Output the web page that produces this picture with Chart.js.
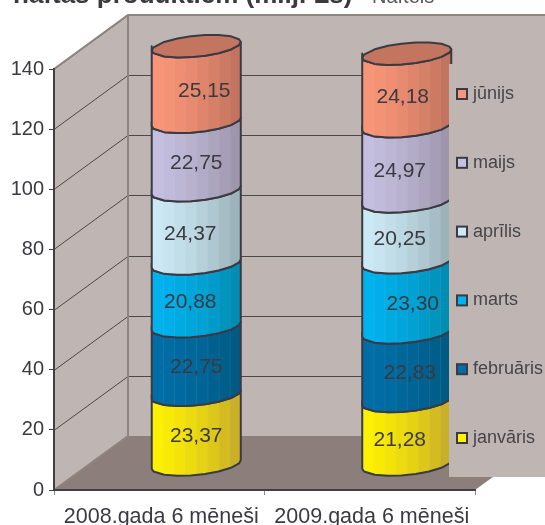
<!DOCTYPE html>
<html><head><meta charset="utf-8">
<script src="https://cdn.jsdelivr.net/npm/chart.js@4"></script>
<style>html,body{margin:0;padding:0;background:#fff;overflow:hidden}canvas{display:block}</style>
</head><body><canvas id="c" width="545" height="525"></canvas>
<script>
const categories = ['2008.gada 6 mēneši', '2009.gada 6 mēneši'];
const seriesNames = ['janvāris', 'februāris', 'marts', 'aprīlis', 'maijs', 'jūnijs'];
const janvaris = [23.37, 21.28];
const februaris = [22.75, 22.83];
const marts = [20.88, 23.30];
const aprilis = [24.37, 20.25];
const maijs = [22.75, 24.97];
const junijs = [25.15, 24.18];
const valueLabels = [['23,37','21,28'],['22,75','22,83'],['20,88','23,30'],['24,37','20,25'],['22,75','24,97'],['25,15','24,18']];
const labelShift = [[0,-7],[0,3],[-6,6],[-6,-7],[0,-7],[8,-4]];
const faceLight = ['#FFF200','#006EA8','#00B4F0','#CDEBF7','#C6C0E2','#FB9678'];
const faceDark  = ['#C4A92C','#00587F','#0089AE','#98ADB4','#9A92A6','#BD705C'];
const capColor = '#C47560';
const yTicks = { min: 0, max: 140, step: 20 };
const DEPTH_X = 74, DEPTH_Y = 54, OUTLINE = '#3a3a44', WALL = '#BFB6B3', FLOOR = '#8C7F7B', EDGE = '#8F8480';

function mix(a, b, t) {
  const p = s => [1,3,5].map(i => parseInt(s.substr(i,2),16));
  const A = p(a), B = p(b);
  return 'rgb(' + A.map((v,i) => Math.round(v + (B[i]-v)*t)).join(',') + ')';
}
const FACETS = [-1,-0.96,-0.72,-0.42,-0.12,0.2,0.5,0.78,0.96,1];
function curveY(yc, t) { return yc - 4.2*t + 10.5*Math.sqrt(Math.max(0,1-t*t)); }
function backY(yc, t) { return yc - 4.2*t - 10.5*Math.sqrt(Math.max(0,1-t*t)); }

const scene = {
  id: 'scene',
  beforeDraw(chart) {
    const {ctx, chartArea: a, scales: {y}} = chart;
    ctx.save();
    ctx.fillStyle = WALL;
    ctx.fillRect(a.left + DEPTH_X, a.top - DEPTH_Y, a.right - a.left, a.bottom - a.top);
    ctx.beginPath();
    ctx.moveTo(a.left, a.top); ctx.lineTo(a.left + DEPTH_X, a.top - DEPTH_Y);
    ctx.lineTo(a.left + DEPTH_X, a.bottom - DEPTH_Y); ctx.lineTo(a.left, a.bottom); ctx.closePath();
    ctx.fill();
    ctx.fillStyle = FLOOR;
    ctx.beginPath();
    ctx.moveTo(a.left, a.bottom); ctx.lineTo(a.left + DEPTH_X, a.bottom - DEPTH_Y);
    ctx.lineTo(a.right + DEPTH_X, a.bottom - DEPTH_Y); ctx.lineTo(a.right, a.bottom); ctx.closePath();
    ctx.fill();
    ctx.strokeStyle = '#4c4848'; ctx.lineWidth = 1;
    y.ticks.forEach(t => {
      if (t.value === 0) return;
      const py = Math.round(y.getPixelForValue(t.value)) + 0.5;
      ctx.beginPath();
      ctx.moveTo(a.left, py); ctx.lineTo(a.left + DEPTH_X, py - DEPTH_Y);
      ctx.lineTo(a.right + DEPTH_X, py - DEPTH_Y);
      ctx.stroke();
    });
    ctx.strokeStyle = EDGE; ctx.lineWidth = 2;
    ctx.beginPath();
    ctx.moveTo(a.left, a.top); ctx.lineTo(a.left + DEPTH_X, a.top - DEPTH_Y);
    ctx.lineTo(a.right + DEPTH_X, a.top - DEPTH_Y);
    ctx.moveTo(a.left + DEPTH_X, a.top - DEPTH_Y); ctx.lineTo(a.left + DEPTH_X, a.bottom - DEPTH_Y);
    ctx.moveTo(a.left, a.bottom); ctx.lineTo(a.left + DEPTH_X, a.bottom - DEPTH_Y);
    ctx.stroke();
    ctx.restore();
  },
  beforeDatasetsDraw(chart) {
    const {ctx} = chart;
    const n = chart.data.datasets.length;
    for (let d = 0; d < n; d++) {
      chart.getDatasetMeta(d).data.forEach((bar, c) => {
        const cx = bar.x + DEPTH_X/2, hw = bar.width/2;
        const top = bar.y - DEPTH_Y/2 + 2, bot = bar.base - DEPTH_Y/2 + 2;
        const X = t => cx + t*hw;
        ctx.save();
        ctx.beginPath();
        ctx.moveTo(X(-1), top);
        FACETS.forEach(t => ctx.lineTo(X(t), curveY(top, t)));
        FACETS.slice().reverse().forEach(t => ctx.lineTo(X(t), curveY(bot, t)));
        ctx.closePath();
        ctx.save();
        ctx.clip();
        const strips = 8;
        for (let s = 0; s < strips; s++) {
          const k = (s + 0.5)/strips;
          ctx.fillStyle = mix(faceLight[d], faceDark[d], k*k*0.5 + k*0.5);
          const x0 = X(-1 + 2*s/strips);
          ctx.fillRect(x0, top - 20, 2*hw/strips + 0.6, bot - top + 50);
          if (s) { ctx.fillStyle = 'rgba(255,255,255,0.08)'; ctx.fillRect(x0, top - 20, 1, bot - top + 50); }
        }
        ctx.restore();
        ctx.strokeStyle = OUTLINE; ctx.lineWidth = 2; ctx.lineJoin = 'round';
        ctx.stroke();
        if (d === n - 1) {
          ctx.beginPath();
          FACETS.forEach((t,i) => i ? ctx.lineTo(X(t), curveY(top, t)) : ctx.moveTo(X(t), curveY(top, t)));
          FACETS.slice().reverse().forEach(t => ctx.lineTo(X(t), backY(top, t)));
          ctx.closePath();
          ctx.fillStyle = capColor; ctx.fill(); ctx.stroke();
        }
        ctx.restore();
      });
    }
    for (let d = 0; d < n; d++) {
      chart.getDatasetMeta(d).data.forEach((bar, c) => {
        ctx.save();
        ctx.font = '21px "Liberation Sans"'; ctx.fillStyle = '#3a3a40';
        ctx.textAlign = 'center'; ctx.textBaseline = 'middle';
        ctx.fillText(valueLabels[d][c], bar.x + DEPTH_X/2 + labelShift[d][c], (bar.y + bar.base)/2 - DEPTH_Y/2 + 9);
        ctx.restore();
      });
    }
    return false;
  },
  afterDraw(chart) {
    const {ctx} = chart;
    ctx.save();
    ctx.fillStyle = WALL;
    ctx.fillRect(449, 64, 96, 413);
    chart.data.datasets.forEach((ds, d) => {
      const ly = 438 - d*68.8;
      ctx.fillStyle = faceLight[d]; ctx.strokeStyle = OUTLINE; ctx.lineWidth = 2;
      ctx.fillRect(457, ly - 5, 10, 10); ctx.strokeRect(457, ly - 5, 10, 10);
      ctx.fillStyle = '#45454a'; ctx.font = '18px "Liberation Sans"';
      ctx.textAlign = 'left'; ctx.textBaseline = 'middle';
      ctx.fillText(ds.label, 473, ly);
    });
    ctx.fillStyle = '#3a3a3f'; ctx.textBaseline = 'alphabetic'; ctx.textAlign = 'left';
    ctx.font = 'bold 26px "Liberation Sans"';
    ctx.fillText('naftas produktiem (milj. Ls)', 13, 3);
    ctx.fillStyle = '#55555a'; ctx.font = '20px "Liberation Sans"';
    ctx.fillText('Naftels', 372, 3);
    ctx.restore();
  }
};

const valueSets = [janvaris, februaris, marts, aprilis, maijs, junijs];
new Chart(document.getElementById('c'), {
  type: 'bar',
  data: {
    labels: categories,
    datasets: seriesNames.map((name, i) => ({ label: name, data: valueSets[i], backgroundColor: faceLight[i] }))
  },
  plugins: [scene],
  options: {
    responsive: false, animation: false, devicePixelRatio: 1,
    layout: { padding: { top: 69, right: 70, left: 0, bottom: 0 } },
    plugins: { legend: { display: false }, title: { display: false }, tooltip: { enabled: false } },
    datasets: { bar: { categoryPercentage: 1, barPercentage: 0.423 } },
    scales: {
      x: {
        stacked: true,
        afterFit(s) { s.height = 35; },
        grid: { drawOnChartArea: false, drawTicks: true, tickLength: 5, color: '#8a8a8a', offset: true },
        border: { color: '#3f3f45', width: 2 },
        ticks: { color: '#3a3a40', font: { family: 'Liberation Sans', size: 21.5 }, padding: 9, maxRotation: 0, labelOffset: 2 }
      },
      y: {
        stacked: true, min: yTicks.min, max: yTicks.max,
        afterFit(s) { s.width = 54; },
        grid: { drawOnChartArea: false, tickLength: 5, color: '#3f3f45' },
        border: { color: '#3f3f45', width: 2 },
        ticks: { stepSize: yTicks.step, color: '#3a3a40', font: { family: 'Liberation Sans', size: 20 }, padding: 5 }
      }
    }
  }
});
</script></body></html>
